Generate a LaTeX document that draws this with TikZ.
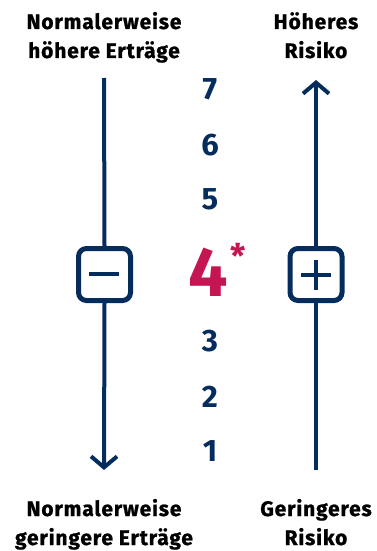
\documentclass[tikz,border=0pt]{standalone}
\usepackage{fontspec}
\setmainfont{Fira Sans}
\newfontfamily\lblfont[LetterSpace=4,FakeBold=1]{Fira Sans}
\usetikzlibrary{arrows.meta}
\definecolor{navy}{RGB}{4,44,92}
\definecolor{berry}{RGB}{196,22,82}
\begin{document}
\begin{tikzpicture}[x=1pt,y=-1pt,
  lbl/.style={font=\lblfont\fontsize{21}{29}\selectfont\bfseries, text=black, align=center, inner sep=0pt},
  num/.style={font=\fontsize{31}{31}\selectfont\bfseries, text=navy, inner sep=0pt},
  sbox/.style={draw=navy, line width=5pt, rounded corners=8pt, minimum width=52pt, minimum height=52pt, inner sep=0pt},
  conn/.style={draw=navy, line width=4pt},
  arr/.style={conn, -{Straight Barb[length=11pt,width=26pt,line width=4pt]}}
]
\useasboundingbox (0,0) rectangle (376,551);
% labels
\node[lbl, anchor=base] (tl) at (104,58) {Normalerweise\\höhere Erträge};
\node[lbl, anchor=base] (tr) at (316,58) {Höheres\\Risiko};
\node[lbl, anchor=base] (bl) at (104,545) {Normalerweise\\geringere Erträge};
\node[lbl, anchor=base] (br) at (316,545) {Geringeres\\Risiko};
% numbers
\node[num] (n7) at (210,89.5) {7};
\node[num] (n6) at (210,145.5) {6};
\node[num] (n5) at (210,199) {5};
\node[num] (n3) at (210,341.5) {3};
\node[num] (n2) at (210,397) {2};
\node[num] (n1) at (210,451.5) {1};
\node[font=\fontsize{70}{70}\selectfont\bfseries, text=berry, inner sep=0pt] (n4) at (208.5,272.5) {4};
\node[font=\fontsize{34}{34}\selectfont\bfseries, text=berry, inner sep=0pt] (ast) at (238.5,256) {*};
% boxes
\node[sbox] (minus) at (104.5,274.5) {};
\node[sbox] (plus) at (316,274.5) {};
\draw[conn] (89,274) coordinate (m1) -- (119,274) coordinate (m2);
\draw[conn] (301,275) coordinate (p1) -- (331,275) coordinate (p2);
\draw[conn] (316,260) coordinate (p3) -- (316,290) coordinate (p4);
% connectors
\coordinate (ltop) at (104,78);
\coordinate (lbot) at (104,470);
\coordinate (rtop) at (316,80);
\coordinate (rbot) at (316,470);
\draw[conn] (ltop) -- (minus.north);
\draw[arr] (minus.south) -- (lbot);
\draw[conn] (rbot) -- (plus.south);
\draw[arr] (plus.north) -- (rtop);
\end{tikzpicture}
\end{document}
